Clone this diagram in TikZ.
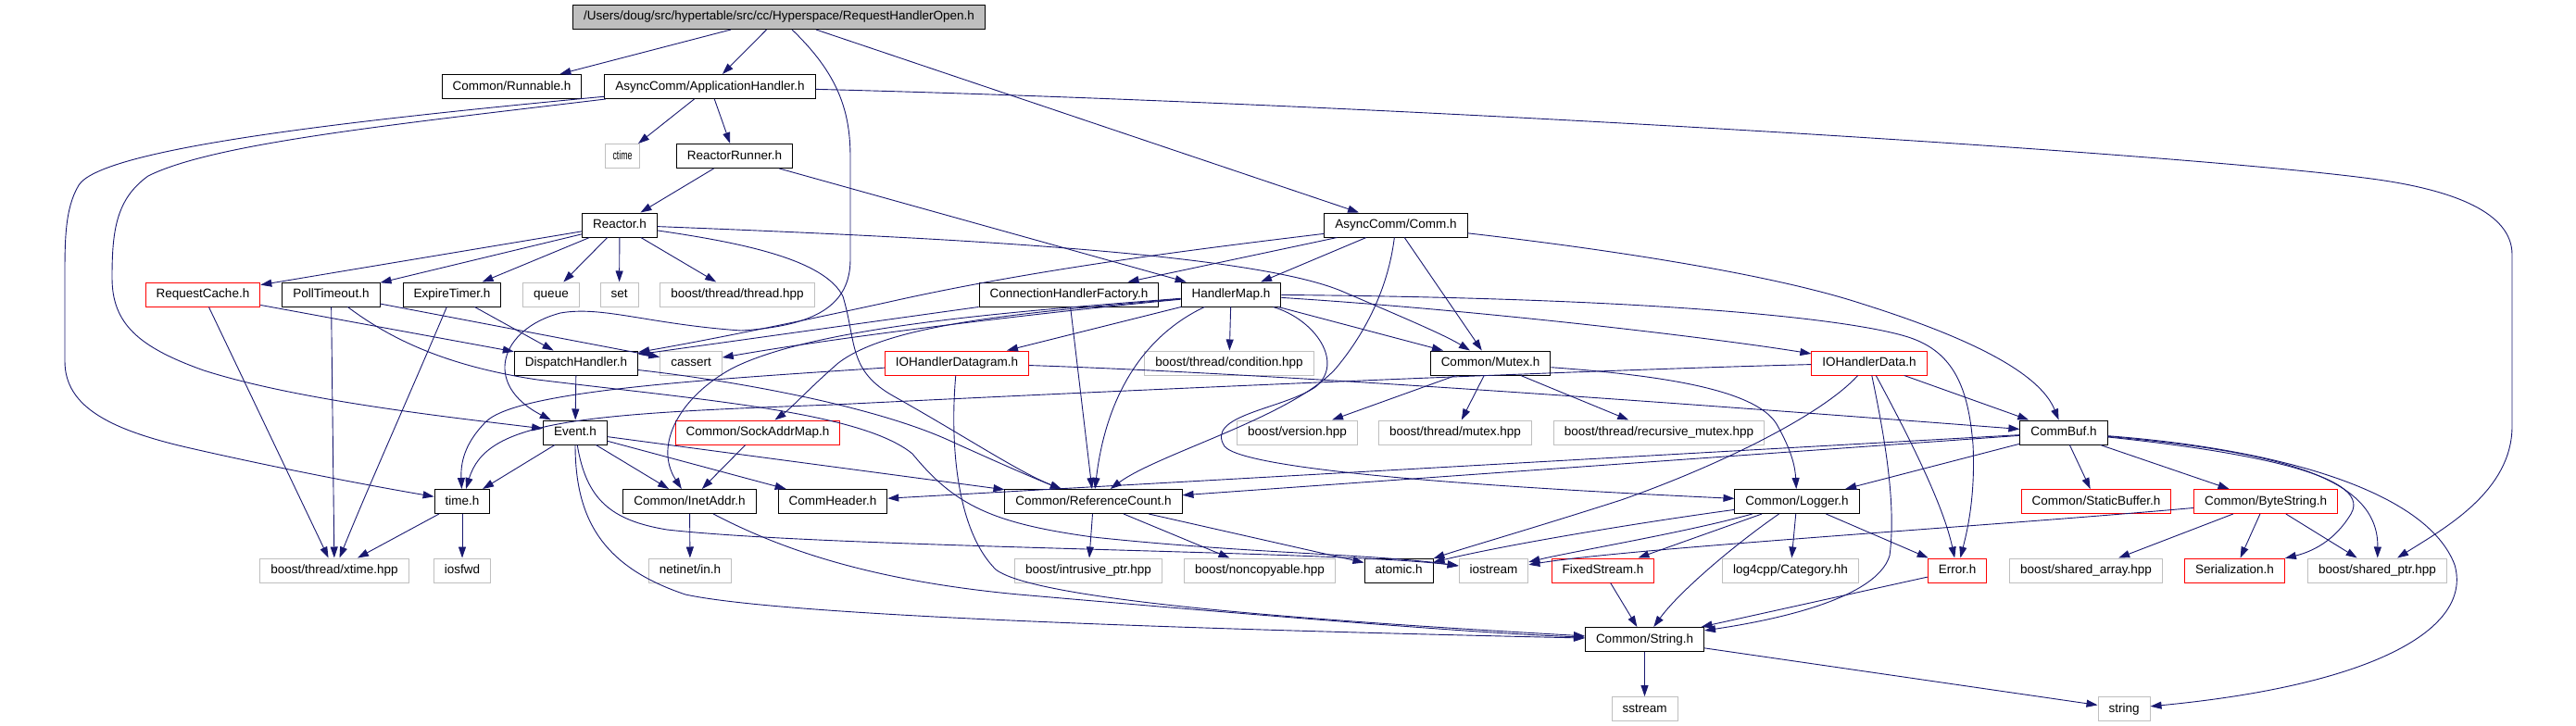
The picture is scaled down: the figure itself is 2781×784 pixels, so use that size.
\documentclass[tikz,border=0pt]{standalone}
\usepackage{fontspec}
\setmainfont{Liberation Sans}
\usepackage{tikz}
\usetikzlibrary{arrows.meta}
\definecolor{dnavy}{HTML}{191970}
\definecolor{dgrey}{HTML}{BFBFBF}
\definecolor{dred}{HTML}{FF0000}
\tikzset{
  >={Triangle[length=12pt,width=8pt]},
  hnode/.style={rectangle, minimum height=26pt, inner xsep=11.5pt, inner ysep=0pt,
                text height=9.8pt, text depth=2.8pt, line width=1pt,
                font=\fontsize{13.5}{16}\selectfont},
  hfile/.style={hnode, draw=black},
  hsys/.style={hnode, draw=dgrey},
  hbad/.style={hnode, draw=dred},
  hroot/.style={hnode, draw=black, fill=dgrey},
  dep/.style={->, dnavy, line width=0.9pt},
}

\begin{document}
\begin{tikzpicture}[x=1pt,y=-1pt]
  \useasboundingbox (0,0) rectangle (2781,784);

  % files, rank by rank
  \node[hroot] (top) at (841,18.5) {/Users/doug/src/hypertable/src/cc/Hyperspace/RequestHandlerOpen.h};

  \node[hfile] (runnable)   at (552.5,93.5) {Common/Runnable.h};
  \node[hfile] (apphandler) at (766.5,93.5) {AsyncComm/ApplicationHandler.h};

  \node[hsys, inner xsep=8pt] (ctime) at (672,168.5) {\scalebox{0.65}[1]{ctime}};
  \node[hfile] (reactorrunner) at (793,168.5) {ReactorRunner.h};

  \node[hfile] (reactor) at (669,243) {Reactor.h};
  \node[hfile] (comm)    at (1507,243) {AsyncComm/Comm.h};

  \node[hbad]  (requestcache) at (219,318) {RequestCache.h};
  \node[hfile] (polltimeout)  at (357.5,318) {PollTimeout.h};
  \node[hfile] (expiretimer)  at (488,318) {ExpireTimer.h};
  \node[hsys]  (queue)        at (595,318) {queue};
  \node[hsys]  (set)          at (668.5,318) {set};
  \node[hsys]  (threadhpp)    at (796,318) {boost/thread/thread.hpp};
  \node[hfile] (connfactory)  at (1154,318) {ConnectionHandlerFactory.h};
  \node[hfile] (handlermap)   at (1329,318) {HandlerMap.h};

  \node[hfile] (dispatch)  at (622,392) {DispatchHandler.h};
  \node[hsys]  (cassert)   at (746,392) {cassert};
  \node[hbad]  (iohdgram)  at (1033,392) {IOHandlerDatagram.h};
  \node[hsys]  (condition) at (1327,392) {boost/thread/condition.hpp};
  \node[hfile] (mutex)     at (1609,392) {Common/Mutex.h};
  \node[hbad]  (iohdata)   at (2018,392) {IOHandlerData.h};

  \node[hfile] (event)       at (621,467) {Event.h};
  \node[hbad]  (sockaddrmap) at (818,467) {Common/SockAddrMap.h};
  \node[hsys]  (version)     at (1400.5,467) {boost/version.hpp};
  \node[hsys]  (bmutex)      at (1571,467) {boost/thread/mutex.hpp};
  \node[hsys]  (recmutex)    at (1791,467) {boost/thread/recursive\_mutex.hpp};
  \node[hfile] (commbuf)     at (2228,467) {CommBuf.h};

  \node[hfile] (timeh)      at (499,541.5) {time.h};
  \node[hfile] (inetaddr)   at (744.5,541.5) {Common/InetAddr.h};
  \node[hfile] (commheader) at (899,541.5) {CommHeader.h};
  \node[hfile] (refcount)   at (1180.5,541.5) {Common/ReferenceCount.h};
  \node[hfile] (logger)     at (1940,541.5) {Common/Logger.h};
  \node[hbad]  (staticbuf)  at (2263,541.5) {Common/StaticBuffer.h};
  \node[hbad]  (bytestring) at (2446,541.5) {Common/ByteString.h};

  \node[hsys]  (xtime)         at (361,616) {boost/thread/xtime.hpp};
  \node[hsys]  (iosfwd)        at (499,616) {iosfwd};
  \node[hsys]  (netinet)       at (745,616) {netinet/in.h};
  \node[hsys]  (intrusive)     at (1175,616) {boost/intrusive\_ptr.hpp};
  \node[hsys]  (noncopyable)   at (1360,616) {boost/noncopyable.hpp};
  \node[hfile] (atomic)        at (1510,616) {atomic.h};
  \node[hsys]  (iostream)      at (1612.5,616) {iostream};
  \node[hbad]  (fixedstream)   at (1730.5,616) {FixedStream.h};
  \node[hsys]  (category)      at (1933,616) {log4cpp/Category.hh};
  \node[hbad]  (error)         at (2113,616) {Error.h};
  \node[hsys]  (sharedarray)   at (2252,616) {boost/shared\_array.hpp};
  \node[hbad]  (serialization) at (2412.5,616) {Serialization.h};
  \node[hsys]  (sharedptr)     at (2566.5,616) {boost/shared\_ptr.hpp};

  \node[hfile] (stringh) at (1775.5,690.5) {Common/String.h};
  \node[hsys]  (sstream) at (1775.5,765.5) {sstream};
  \node[hsys]  (string)  at (2293,765.5) {string};

  % include edges
  \draw[dep] (top) -- (runnable);
  \draw[dep] (top) -- (apphandler);
  \draw[dep] (top) -- (comm);
  \draw[dep] (top) .. controls (905,80) and (918,120) .. (918,170) -- (918,280)
    .. controls (918,330) and (880,352) .. (800,357)
    .. controls (700,350) and (650,330) .. (605,338)
    .. controls (540,355) and (520,415) .. (event);

  \draw[dep] (apphandler) -- (ctime);
  \draw[dep] (apphandler) -- (reactorrunner);
  \draw[dep] (apphandler) .. controls (420,135) and (230,155) .. (160,190)
    .. controls (125,215) and (121,250) .. (121,300)
    .. controls (121,350) and (150,375) .. (220,400)
    .. controls (320,432) and (480,450) .. (event);
  \draw[dep] (apphandler) .. controls (380,130) and (110,160) .. (85,200)
    .. controls (70,225) and (70,260) .. (70,300) -- (70,390)
    .. controls (70,440) and (120,465) .. (210,485)
    .. controls (320,510) and (420,528) .. (timeh);
  \draw[dep] (apphandler) .. controls (1500,112) and (2350,165) .. (2560,193)
    .. controls (2650,205) and (2712,230) .. (2712,275) -- (2712,460)
    .. controls (2712,530) and (2640,570) .. (sharedptr);

  \draw[dep] (reactorrunner) -- (reactor);
  \draw[dep] (reactorrunner) -- (handlermap);

  \draw[dep] (reactor) -- (requestcache);
  \draw[dep] (reactor) -- (polltimeout);
  \draw[dep] (reactor) -- (expiretimer);
  \draw[dep] (reactor) -- (queue);
  \draw[dep] (reactor) -- (set);
  \draw[dep] (reactor) -- (threadhpp);
  \draw[dep] (reactor) .. controls (1000,256) and (1350,272) .. (1450,315)
    .. controls (1520,345) and (1560,362) .. (mutex);
  \draw[dep] (reactor) .. controls (800,262) and (890,280) .. (910,320)
    .. controls (925,370) and (915,400) .. (965,428)
    .. controls (1040,470) and (1100,510) .. (refcount);

  \draw[dep] (comm) -- (connfactory);
  \draw[dep] (comm) .. controls (1300,268) and (1120,290) .. (960,326)
    .. controls (850,350) and (760,368) .. (dispatch);
  \draw[dep] (comm) -- (handlermap);
  \draw[dep] (comm) .. controls (1500,300) and (1482,350) .. (1442,398)
    .. controls (1395,450) and (1250,490) .. (refcount);
  \draw[dep] (comm) -- (mutex);
  \draw[dep] (comm) .. controls (1700,265) and (1900,292) .. (2010,328)
    .. controls (2150,372) and (2205,410) .. (commbuf);

  \draw[dep] (requestcache) -- (dispatch);
  \draw[dep] (requestcache) -- (xtime);
  \draw[dep] (polltimeout) -- (xtime);
  \draw[dep] (polltimeout) -- (cassert);
  \draw[dep] (polltimeout) .. controls (420,365) and (480,395) .. (580,410)
    .. controls (760,432) and (930,445) .. (985,490)
    .. controls (1030,545) and (1070,565) .. (1180,580)
    .. controls (1350,598) and (1480,598) .. (iostream);
  \draw[dep] (expiretimer) -- (dispatch);
  \draw[dep] (expiretimer) .. controls (445,420) and (400,520) .. (xtime);

  \draw[dep] (connfactory) -- (dispatch);
  \draw[dep] (connfactory) -- (refcount);

  \draw[dep] (handlermap) .. controls (1100,340) and (900,365) .. (cassert);
  \draw[dep] (handlermap) -- (condition);
  \draw[dep] (handlermap) -- (mutex);
  \draw[dep] (handlermap) .. controls (1240,360) and (1195,420) .. (refcount);
  \draw[dep] (handlermap) .. controls (1100,338) and (960,350) .. (905,392)
    .. controls (875,418) and (855,440) .. (sockaddrmap);
  \draw[dep] (handlermap) .. controls (1100,336) and (880,352) .. (790,398)
    .. controls (735,428) and (705,480) .. (inetaddr);
  \draw[dep] (handlermap) -- (iohdgram);
  \draw[dep] (handlermap) .. controls (1600,335) and (1850,365) .. (iohdata);
  \draw[dep] (handlermap) .. controls (1800,322) and (2000,345) .. (2060,364)
    .. controls (2110,380) and (2125,420) .. (2130,480)
    .. controls (2133,540) and (2122,580) .. (error);
  \draw[dep] (handlermap) .. controls (1420,345) and (1452,392) .. (1420,418)
    .. controls (1385,442) and (1300,448) .. (1322,482)
    .. controls (1345,510) and (1650,528) .. (logger);

  \draw[dep] (dispatch) -- (event);
  \draw[dep] (dispatch) .. controls (800,412) and (950,440) .. (1030,478)
    .. controls (1090,505) and (1120,518) .. (refcount);

  \draw[dep] (iohdgram) .. controls (760,410) and (560,422) .. (525,455)
    .. controls (505,475) and (497,495) .. (timeh);
  \draw[dep] (iohdgram) .. controls (1400,404) and (1900,442) .. (commbuf);
  \draw[dep] (iohdgram) .. controls (1026,470) and (1030,570) .. (1075,615)
    .. controls (1120,650) and (1450,672) .. (stringh);

  \draw[dep] (mutex) -- (version);
  \draw[dep] (mutex) -- (bmutex);
  \draw[dep] (mutex) -- (recmutex);
  \draw[dep] (mutex) .. controls (1790,405) and (1895,420) .. (1918,458)
    .. controls (1935,488) and (1938,505) .. (logger);

  \draw[dep] (iohdata) .. controls (1700,400) and (1200,422) .. (900,437)
    .. controls (620,447) and (525,455) .. (timeh);
  \draw[dep] (iohdata) .. controls (1965,450) and (1850,505) .. (1750,540)
    .. controls (1650,572) and (1580,592) .. (atomic);
  \draw[dep] (iohdata) .. controls (2032,460) and (2048,540) .. (2040,600)
    .. controls (2025,650) and (1900,672) .. (stringh);
  \draw[dep] (iohdata) .. controls (2060,470) and (2098,545) .. (error);
  \draw[dep] (iohdata) -- (commbuf);

  \draw[dep] (event) -- (timeh);
  \draw[dep] (event) -- (inetaddr);
  \draw[dep] (event) -- (commheader);
  \draw[dep] (event) -- (refcount);
  \draw[dep] (event) .. controls (621,560) and (650,612) .. (740,642)
    .. controls (860,668) and (1400,682) .. (stringh);
  \draw[dep] (event) .. controls (633,540) and (660,562) .. (720,572)
    .. controls (900,592) and (1450,595) .. (iostream);

  \draw[dep] (sockaddrmap) -- (inetaddr);

  \draw[dep] (commbuf) -- (commheader);
  \draw[dep] (commbuf) -- (refcount);
  \draw[dep] (commbuf) -- (logger);
  \draw[dep] (commbuf) -- (staticbuf);
  \draw[dep] (commbuf) -- (bytestring);
  \draw[dep] (commbuf) .. controls (2400,485) and (2565,510) .. (2538,555)
    .. controls (2520,585) and (2495,596) .. (serialization);
  \draw[dep] (commbuf) .. controls (2460,488) and (2568,515) .. (sharedptr);
  \draw[dep] (commbuf) .. controls (2460,485) and (2620,530) .. (2650,610)
    .. controls (2670,680) and (2560,740) .. (string);

  \draw[dep] (timeh) -- (xtime);
  \draw[dep] (timeh) -- (iosfwd);
  \draw[dep] (inetaddr) -- (netinet);
  \draw[dep] (inetaddr) .. controls (850,597) and (950,628) .. (1100,642)
    .. controls (1400,668) and (1600,684) .. (stringh);

  \draw[dep] (refcount) -- (intrusive);
  \draw[dep] (refcount) -- (noncopyable);
  \draw[dep] (refcount) -- (atomic);

  \draw[dep] (logger) .. controls (1800,560) and (1640,585) .. (atomic);
  \draw[dep] (logger) .. controls (1820,575) and (1700,595) .. (iostream);
  \draw[dep] (logger) -- (fixedstream);
  \draw[dep] (logger) .. controls (1870,590) and (1812,640) .. (stringh);
  \draw[dep] (logger) -- (category);
  \draw[dep] (logger) -- (error);

  \draw[dep] (bytestring) .. controls (2150,568) and (1760,592) .. (iostream);
  \draw[dep] (bytestring) -- (sharedarray);
  \draw[dep] (bytestring) -- (serialization);
  \draw[dep] (bytestring) -- (sharedptr);

  \draw[dep] (fixedstream) -- (stringh);
  \draw[dep] (error) -- (stringh);
  \draw[dep] (stringh) -- (sstream);
  \draw[dep] (stringh) -- (string);

\end{tikzpicture}
\end{document}
